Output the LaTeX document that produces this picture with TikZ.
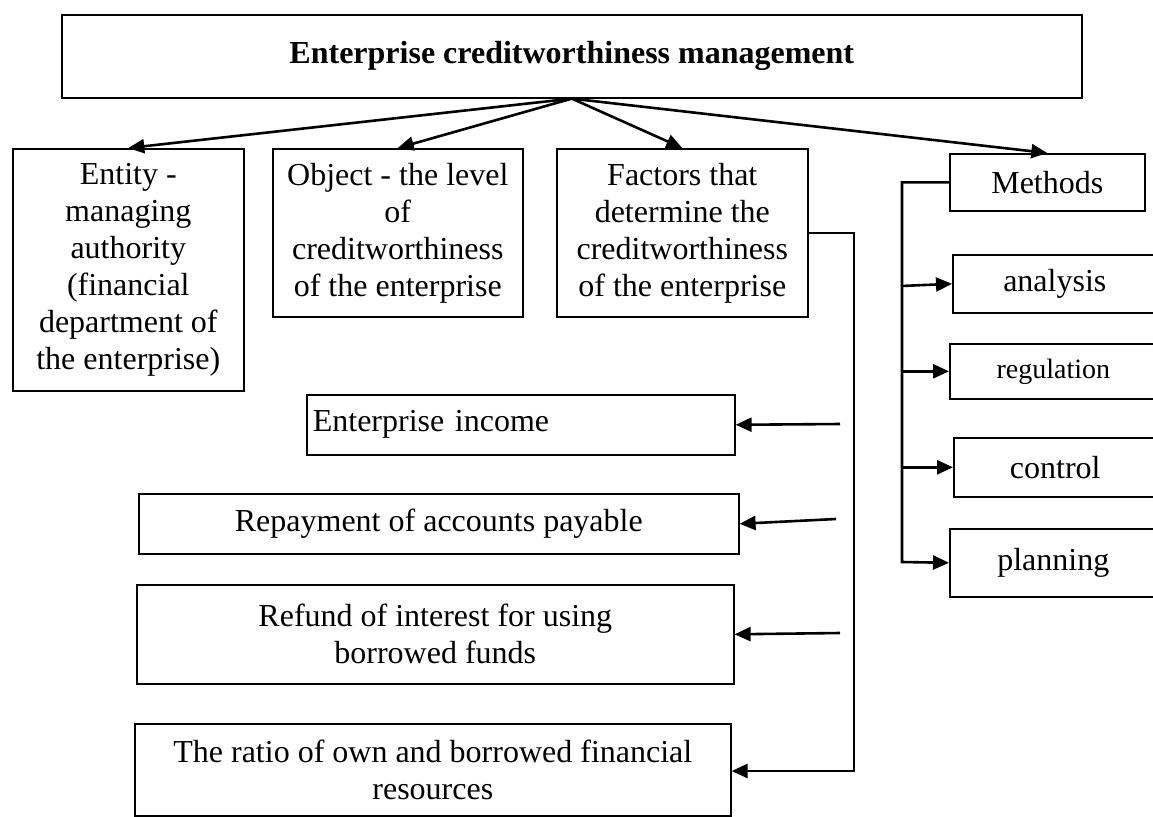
\documentclass[tikz,border=0pt]{standalone}
\usepackage{fontspec}
\setmainfont{Liberation Serif}
\usetikzlibrary{arrows.meta}

\tikzset{
    block/.style={rectangle, draw=black, line width=0.8pt, anchor=north west, inner sep=0pt, align=center, font=\fontsize{16}{18.5}\selectfont},
    arr/.style={-{Triangle[length=8pt,width=7pt]}, line width=1.3pt}
}

\begin{document}
\begin{tikzpicture}[x=0.5pt, y=-0.5pt]
    \useasboundingbox (0,0) rectangle (1153,816);

    \node [block, minimum width=510pt, minimum height=41.5pt, font=\fontsize{16}{18.5}\selectfont\bfseries] (title) at (61,14) {Enterprise creditworthiness management};

    \node [block, minimum width=115.5pt, minimum height=121pt] (entity) at (12,148) {Entity -\\managing\\authority\\(financial\\department of\\the enterprise)};
    \node [block, minimum width=125pt, minimum height=84pt] (object) at (272,148) {Object - the level\\of\\creditworthiness\\of the enterprise};
    \node [block, minimum width=125.5pt, minimum height=84pt] (factors) at (556,148) {Factors that\\determine the\\creditworthiness\\of the enterprise};
    \node [block, minimum width=97.5pt, minimum height=28.5pt] (methods) at (949,153) {Methods};

    \node [block, minimum width=102pt, minimum height=29pt] (analysis) at (952,254) {analysis};
    \node [block, minimum width=103.5pt, minimum height=27.5pt, font=\fontsize{14}{16}\selectfont] (regulation) at (949,343) {regulation};
    \node [block, minimum width=101.5pt, minimum height=29.5pt] (control) at (953,437) {control};
    \node [block, minimum width=103.5pt, minimum height=34pt] (planning) at (949,528) {planning};

    \node [block, text width=208pt, inner xsep=3pt, align=left, minimum height=30pt] (income) at (306,394) {Enterprise income};
    \node [block, minimum width=300pt, minimum height=30pt] (repay) at (138,493) {Repayment of accounts payable};
    \node [block, minimum width=298.5pt, minimum height=49.5pt] (refund) at (136,584) {Refund of interest for using\\borrowed funds};
    \node [block, minimum width=298pt, minimum height=46pt] (ratio) at (134,723) {The ratio of own and borrowed financial\\resources};

    % arrows from the top box
    \draw [arr] (title.south) -- (entity.north);
    \draw [arr] (title.south) -- (object.north);
    \draw [arr] (title.south) -- (factors.north);
    \draw [arr] (title.south) -- (methods.north);

    % factors
    \coordinate (fbus) at (854,771);
    \coordinate (fincome) at (840,424);
    \coordinate (frepay) at (836,519);
    \coordinate (frefund) at (840,633);
    \draw [arr] (factors.east) -| (fbus) -- (fbus -| ratio.east);
    \draw [arr] (fincome) -- (income.east);
    \draw [arr] (frepay) -- (repay.east);
    \draw [arr] (frefund) -- (refund.east);

    % methods
    \coordinate (mbus) at (902,562);
    \coordinate (manalysis) at (901,286);
    \draw [arr] (methods.west) -| (mbus) -- (planning.west);
    \draw [arr] (manalysis) -- (analysis.west);
    \draw [arr] (mbus |- regulation.west) -- (regulation.west);
    \draw [arr] (mbus |- control.west) -- (control.west);
\end{tikzpicture}
\end{document}
